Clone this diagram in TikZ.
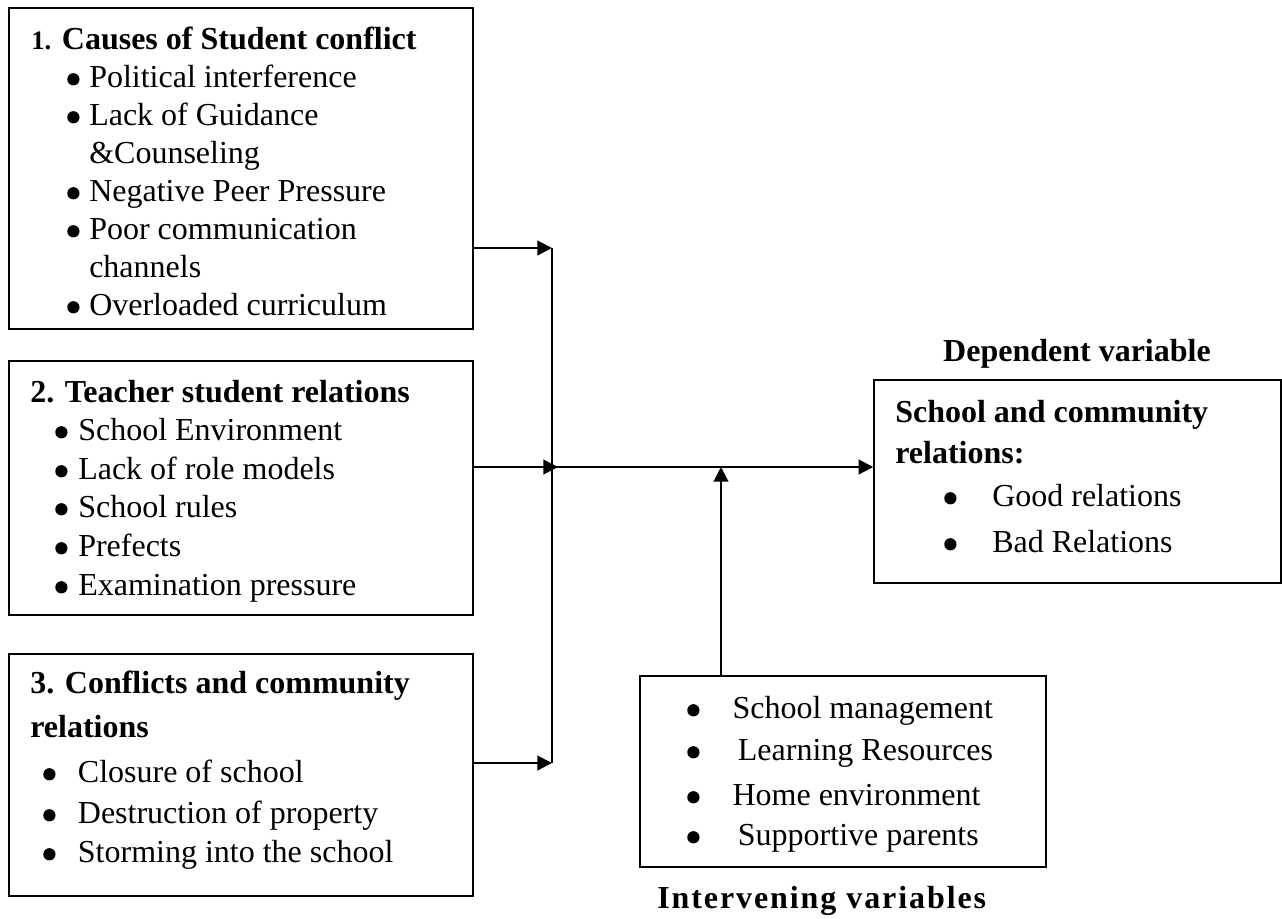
\documentclass[tikz,border=0pt]{standalone}
\usepackage{fontspec}
\setmainfont{Liberation Serif}
\usetikzlibrary{arrows.meta,fit}
\newcommand{\bdot}{\raisebox{1.2pt}{\tikz\fill (0,0) circle (4.6pt);}}
\newcommand{\itm}[2]{\makebox[#1][l]{\bdot}#2}

\begin{document}
\begin{tikzpicture}[x=0.75pt,y=0.75pt,yscale=-1,xscale=1,
  box/.style={draw, line width=1.1pt, inner sep=0pt},
  txt/.style={anchor=base west, inner sep=0pt, font=\fontsize{24}{29}\selectfont},
  hd/.style={txt, font=\fontsize{24}{29}\selectfont\bfseries},
  arr/.style={line width=1.6pt, -{Triangle[length=11pt,width=11pt]}},
  ln/.style={line width=1.6pt}]
\useasboundingbox (0,0) rectangle (1282,918);

%Shape: Rectangle [id:cause1]
\node[box, fit={(9,8) (473,329)}] (cause1) {};
%Shape: Rectangle [id:cause2]
\node[box, fit={(9,361) (473,615)}] (cause2) {};
%Shape: Rectangle [id:cause3]
\node[box, fit={(9,654) (473,896)}] (cause3) {};
%Shape: Rectangle [id:dep]
\node[box, fit={(874,380) (1281,583)}] (dep) {};
%Shape: Rectangle [id:interv]
\node[box, fit={(640,676) (1046,867)}] (interv) {};

\coordinate (j1) at (552,248);
\coordinate (hub) at (552,467);
\coordinate (tip2) at (558,467);
\coordinate (j3) at (552,763);
\coordinate (m) at (721,467);

%Straight Lines
\draw[arr] (cause1.east |- j1) -- (j1);
\draw[arr] (cause2.east |- hub) -- (tip2);
\draw[arr] (cause3.east |- j3) -- (j3);
\draw[ln] (j1) -- (j3);
\draw[arr] (hub) -- (dep.west |- hub);
\draw[arr] (interv.north -| m) -- (m);

% Text Node
\node[hd] (c1h) at (31,49) {{\fontsize{20}{24}\selectfont 1.} Causes of Student conflict};
\node[txt] (c1a) at (67,87) {\itm{16.5pt}{Political interference}};
\node[txt] (c1b) at (67,125) {\itm{16.5pt}{Lack of Guidance}};
\node[txt] (c1b2) at (89,163) {\&Counseling};
\node[txt] (c1c) at (67,201) {\itm{16.5pt}{Negative Peer Pressure}};
\node[txt] (c1d) at (67,239) {\itm{16.5pt}{Poor communication}};
\node[txt] (c1d2) at (89,277) {channels};
\node[txt] (c1e) at (67,315) {\itm{16.5pt}{Overloaded curriculum}};

% Text Node
\node[hd] (c2h) at (30,402) {2. Teacher student relations};
\node[txt] (c2a) at (55,440) {\itm{17.25pt}{School Environment}};
\node[txt] (c2b) at (55,479) {\itm{17.25pt}{Lack of role models}};
\node[txt] (c2c) at (55,517) {\itm{17.25pt}{School rules}};
\node[txt] (c2d) at (55,556) {\itm{17.25pt}{Prefects}};
\node[txt] (c2e) at (55,595) {\itm{17.25pt}{Examination pressure}};

% Text Node
\node[hd] (c3h) at (30,693) {3. Conflicts and community};
\node[hd] (c3h2) at (30,737) {relations};
\node[txt] (c3a) at (43,782) {\itm{26pt}{Closure of school}};
\node[txt] (c3b) at (43,823) {\itm{26pt}{Destruction of property}};
\node[txt] (c3c) at (43,862) {\itm{26pt}{Storming into the school}};

% Text Node
\node[hd, anchor=base] (deplbl) at (1077,361) {Dependent variable};
\node[hd] (deph) at (895,422) {School and community};
\node[hd] (deph2) at (895,463) {relations:};
\node[txt] (depa) at (944,506) {\itm{36pt}{Good relations}};
\node[txt] (depb) at (944,552) {\itm{36pt}{Bad Relations}};

% Text Node
\node[txt] (inta) at (687,718) {\itm{34pt}{School management}};
\node[txt] (intb) at (687,760) {\itm{38pt}{Learning Resources}};
\node[txt] (intc) at (687,805) {\itm{34pt}{Home environment}};
\node[txt] (intd) at (687,845) {\itm{38pt}{Supportive parents}};
\node[hd] (intlbl) at (657,908) {\addfontfeature{LetterSpace=6}Intervening variables};

\end{tikzpicture}
\end{document}
